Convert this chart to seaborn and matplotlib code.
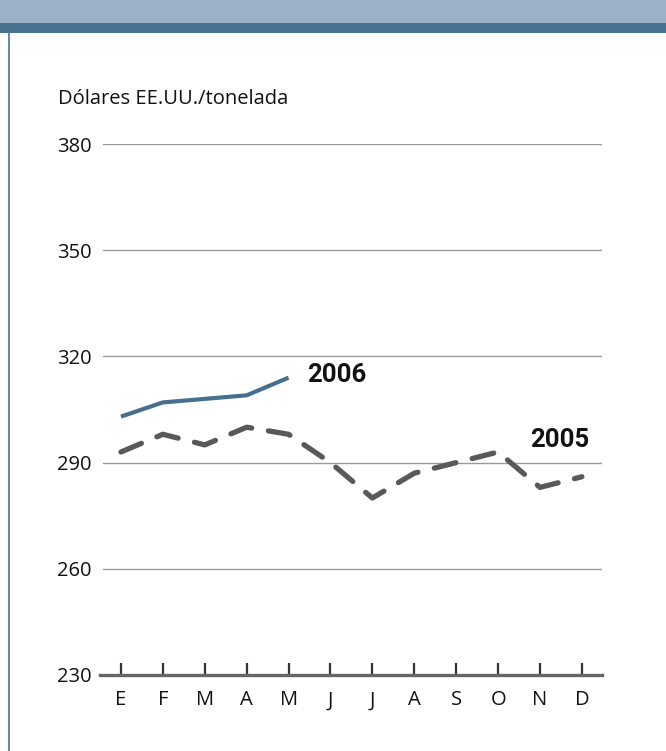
import matplotlib
matplotlib.use("Agg")
import matplotlib.pyplot as plt
from matplotlib.patches import Rectangle
from matplotlib.lines import Line2D
import seaborn as sns
import pandas as pd

# Monthly prices, US dollars per tonne
months = ["E", "F", "M", "A", "M", "J", "J", "A", "S", "O", "N", "D"]
prices_2005 = [293, 298, 295, 300, 298, 290, 280, 287, 290, 293, 283, 286]
prices_2006 = [303, 307, 308, 309, 314]
y_ticks = [230, 260, 290, 320, 350, 380]

df = pd.concat([
    pd.DataFrame({"mes": range(len(prices_2005)), "precio": prices_2005, "año": "2005"}),
    pd.DataFrame({"mes": range(len(prices_2006)), "precio": prices_2006, "año": "2006"}),
])

sns.set_style("white")
plt.rcParams["font.family"] = ["Open Sans", "DejaVu Sans"]

fig = plt.figure(figsize=(6.66, 7.51), dpi=100)

# header bands and left frame
fig.add_artist(Rectangle((0, 1 - 23 / 751), 1, 23 / 751, transform=fig.transFigure,
                         facecolor="#9bb1c5", edgecolor="none"))
fig.add_artist(Rectangle((0, 1 - 33 / 751), 1, 10 / 751, transform=fig.transFigure,
                         facecolor="#46728f", edgecolor="none"))
fig.add_artist(Line2D([8.5 / 666, 8.5 / 666], [0, 1 - 33 / 751], transform=fig.transFigure,
                      color="#6a8ba5", lw=1.5))

ax = fig.add_axes([100 / 666, 1 - 675 / 751, 502 / 666, 531 / 751])

sns.lineplot(data=df[df["año"] == "2005"], x="mes", y="precio", ax=ax,
             color="#595959", lw=3.8, legend=False)
ax.lines[-1].set_dashes([4.2, 3.2])
ax.lines[-1].set_dash_capstyle("round")
sns.lineplot(data=df[df["año"] == "2006"], x="mes", y="precio", ax=ax,
             color="#47708f", lw=3.0, legend=False)
ax.lines[-1].set_solid_capstyle("butt")

for y in y_ticks[1:]:
    ax.axhline(y, xmin=3 / 502, color="#9a9a9a", lw=1.0, zorder=0)

ax.set_xlim(-0.5, 11.48)
ax.set_ylim(230, 380)
ax.set_xticks(range(len(months)))
ax.set_xticklabels(months, fontsize=14.5)
ax.set_yticks(y_ticks)
ax.set_yticklabels([str(v) for v in y_ticks], fontsize=14.5)
ax.set_xlabel("")
ax.set_ylabel("")

for s in ["top", "right", "left"]:
    ax.spines[s].set_visible(False)
ax.spines["bottom"].set_color("#666666")
ax.spines["bottom"].set_linewidth(2.4)
ax.spines["bottom"].set_zorder(5)
ax.tick_params(axis="x", direction="in", length=9, width=1.6, color="#333333", pad=11,
               bottom=True, labelcolor="#111111")
ax.tick_params(axis="y", length=0, pad=6, labelcolor="#111111")

year_font = dict(family=["Roboto", "DejaVu Sans"], fontsize=18.5, fontweight="bold",
                 va="center", ha="left", color="#111111")
ax.text(4.45, 314.7, "2006", **year_font)
ax.text(9.76, 296.4, "2005", **year_font)

fig.text(58 / 666, 1 - 99 / 751, "Dólares EE.UU./tonelada", fontsize=14.5, va="center",
         ha="left", color="#111111")

fig.savefig("out.png", dpi=100, facecolor="white")
